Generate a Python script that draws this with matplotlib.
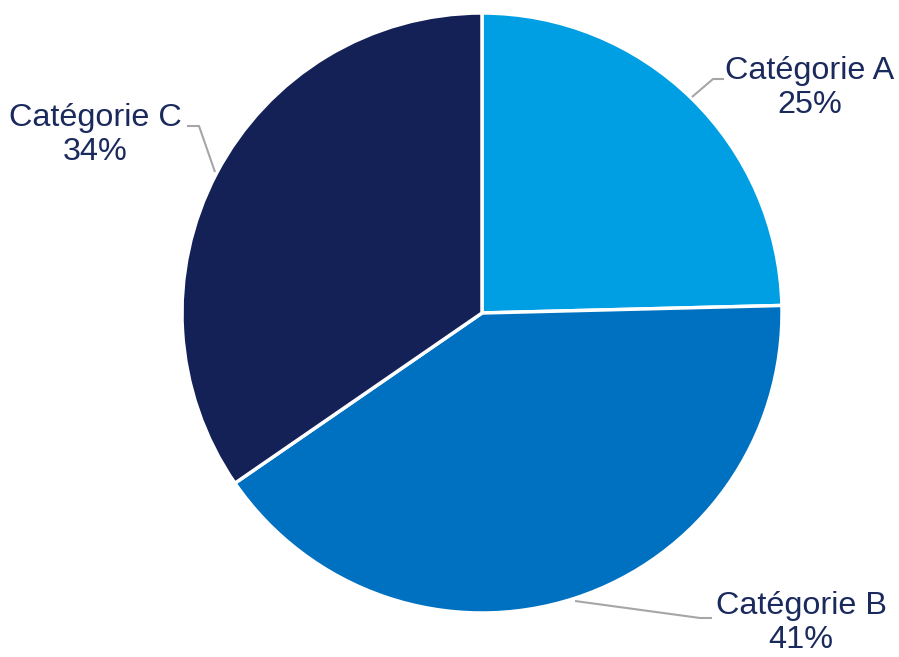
import matplotlib
matplotlib.use("Agg")
import matplotlib.pyplot as plt

categories = ["Catégorie A", "Catégorie B", "Catégorie C"]
values = [24.6, 40.8, 34.6]
pct_labels = ["25%", "41%", "34%"]
colors = ["#009FE3", "#0070C0", "#142157"]

W, H = 899, 657
fig = plt.figure(figsize=(W / 100, H / 100), dpi=100)
ax = fig.add_axes([0, 0, 1, 1])
ax.set_xlim(0, W)
ax.set_ylim(0, H)
ax.set_aspect("equal")
ax.axis("off")

def fy(y):
    return H - y

ax.pie(values, colors=colors, startangle=90, counterclock=False,
       center=(482, fy(313)), radius=300, frame=True,
       wedgeprops=dict(edgecolor="white", linewidth=2.5))
ax.set_xlim(0, W)
ax.set_ylim(0, H)
ax.axis("off")

text_color = "#1B2A5C"
line_color = "#A6A6A6"

label_pos = [(810, 88), (801, 623), (95, 135)]
leaders = [
    [(692, 97), (713, 79), (724, 79)],
    [(575, 601), (700, 618), (712, 618)],
    [(215, 172), (199, 126), (187, 126)],
]

for cat, pct, (tx, ty), pts in zip(categories, pct_labels, label_pos, leaders):
    ax.text(tx, fy(ty), f"{cat}\n{pct}", ha="center", va="center",
            fontsize=23.3, family="Liberation Sans", color=text_color,
            linespacing=1.2)
    xs = [p[0] for p in pts]
    ys = [fy(p[1]) for p in pts]
    ax.plot(xs, ys, color=line_color, lw=1.5, solid_capstyle="butt")

fig.savefig("out.png", dpi=100, facecolor="white")
